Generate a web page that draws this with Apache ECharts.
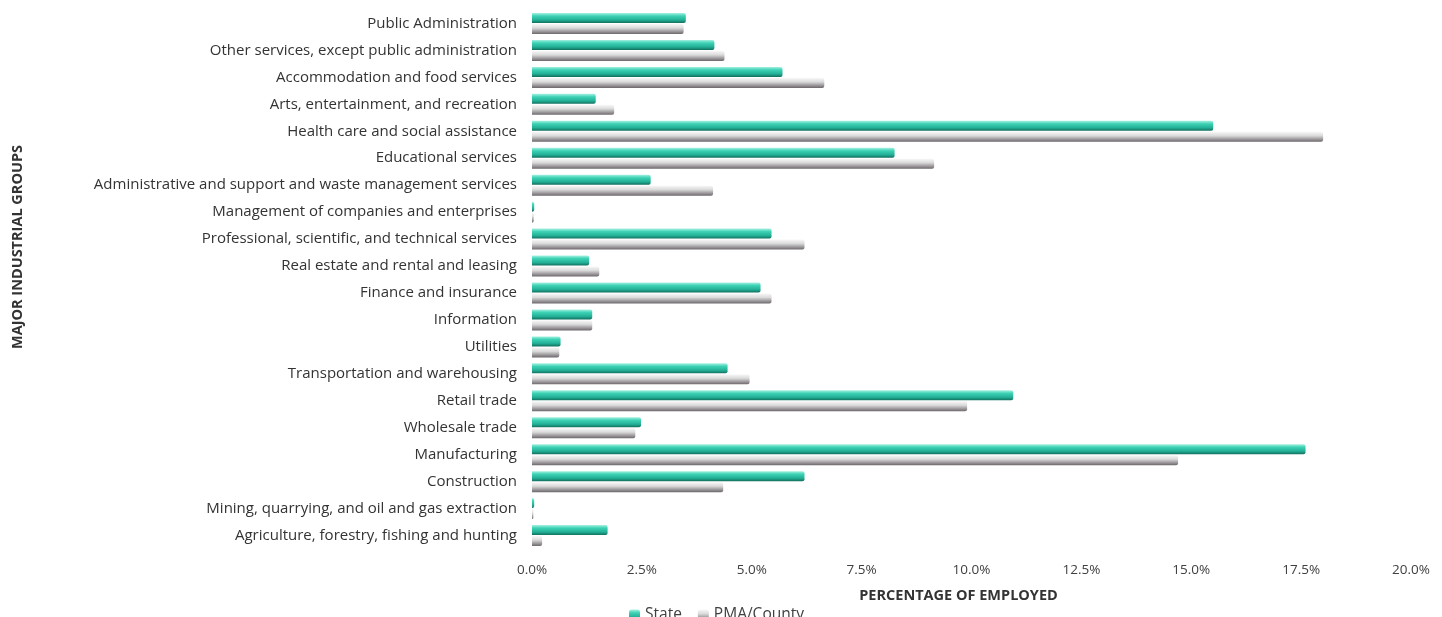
<!DOCTYPE html>
<html>
<head>
<meta charset="utf-8">
<script src="https://cdn.jsdelivr.net/npm/echarts@6/dist/echarts.min.js"></script>
<style>
  html, body { margin: 0; padding: 0; background: #ffffff; }
  #chart { width: 1442px; height: 617px; }
</style>
</head>
<body>
<div id="chart"></div>
<script>
// Industry groups, listed top to bottom
const industries = [
  'Public Administration',
  'Other services, except public administration',
  'Accommodation and food services',
  'Arts, entertainment, and recreation',
  'Health care and social assistance',
  'Educational services',
  'Administrative and support and waste management services',
  'Management of companies and enterprises',
  'Professional, scientific, and technical services',
  'Real estate and rental and leasing',
  'Finance and insurance',
  'Information',
  'Utilities',
  'Transportation and warehousing',
  'Retail trade',
  'Wholesale trade',
  'Manufacturing',
  'Construction',
  'Mining, quarrying, and oil and gas extraction',
  'Agriculture, forestry, fishing and hunting'
];

// Share of employed persons (%)
const stateShare = [3.5, 4.15, 5.7, 1.45, 15.5, 8.25, 2.7, 0.05, 5.45, 1.3,
  5.2, 1.37, 0.65, 4.45, 10.95, 2.48, 17.6, 6.2, 0.05, 1.72];
const countyShare = [3.45, 4.38, 6.65, 1.87, 18.0, 9.15, 4.12, 0.04, 6.2, 1.53,
  5.45, 1.37, 0.62, 4.95, 9.9, 2.35, 14.7, 4.35, 0.03, 0.23];

const xTicks = { min: 0, max: 20, step: 2.5 };

const fontFamily = 'Open Sans, Lato, sans-serif';

function cylinder(stops) {
  return new echarts.graphic.LinearGradient(0, 0, 0, 1,
    stops.map(s => ({ offset: s[0], color: s[1] })));
}

const stateFill = cylinder([[0, '#a6f2e2'], [0.3, '#3ed2b5'], [0.7, '#22b096'], [1, '#12705f']]);
const countyFill = cylinder([[0, '#f8f8f8'], [0.4, '#dadada'], [0.75, '#9b979b'], [1, '#6c686c']]);

const chart = echarts.init(document.getElementById('chart'), null, { renderer: 'canvas' });

chart.setOption({
  animation: false,
  backgroundColor: '#ffffff',
  grid: { left: 532, right: 31, top: 10, bottom: 68, containLabel: false },
  legend: {
    data: ['State', 'PMA/County'],
    left: 624,
    top: 602,
    itemWidth: 11,
    itemHeight: 11,
    itemGap: 16,
    textStyle: { fontFamily: fontFamily, fontSize: 15.5, color: '#404040' }
  },
  graphic: [{
    type: 'text',
    x: 18,
    y: 247,
    rotation: Math.PI / 2,
    style: {
      text: 'MAJOR INDUSTRIAL GROUPS',
      fontFamily: fontFamily,
      fontSize: 14.5,
      fontWeight: 'bold',
      fill: '#333333',
      align: 'center',
      verticalAlign: 'middle'
    }
  }],
  xAxis: {
    type: 'value',
    min: xTicks.min,
    max: xTicks.max,
    interval: xTicks.step,
    name: 'PERCENTAGE OF EMPLOYED',
    nameLocation: 'middle',
    nameGap: 39,
    nameTextStyle: {
      fontFamily: fontFamily, fontSize: 14.5, fontWeight: 'bold', color: '#333333',
      padding: [0, 26, 0, 0]
    },
    axisLine: { show: false },
    axisTick: { show: false },
    splitLine: { show: false },
    axisLabel: {
      fontFamily: fontFamily, fontSize: 13.5, color: '#404040', margin: 14,
      formatter: v => v.toFixed(1) + '%'
    }
  },
  yAxis: {
    type: 'category',
    data: industries,
    inverse: true,
    axisLine: { show: false },
    axisTick: { show: false },
    axisLabel: {
      fontFamily: fontFamily, fontSize: 15, color: '#333333', margin: 15
    }
  },
  series: [
    {
      name: 'State',
      type: 'bar',
      data: stateShare,
      barWidth: 10,
      barGap: '10%',
      itemStyle: { color: stateFill, borderRadius: [0, 2, 2, 0] }
    },
    {
      name: 'PMA/County',
      type: 'bar',
      data: countyShare,
      barWidth: 10,
      itemStyle: { color: countyFill, borderRadius: [0, 2, 2, 0] }
    }
  ]
});
</script>
</body>
</html>
